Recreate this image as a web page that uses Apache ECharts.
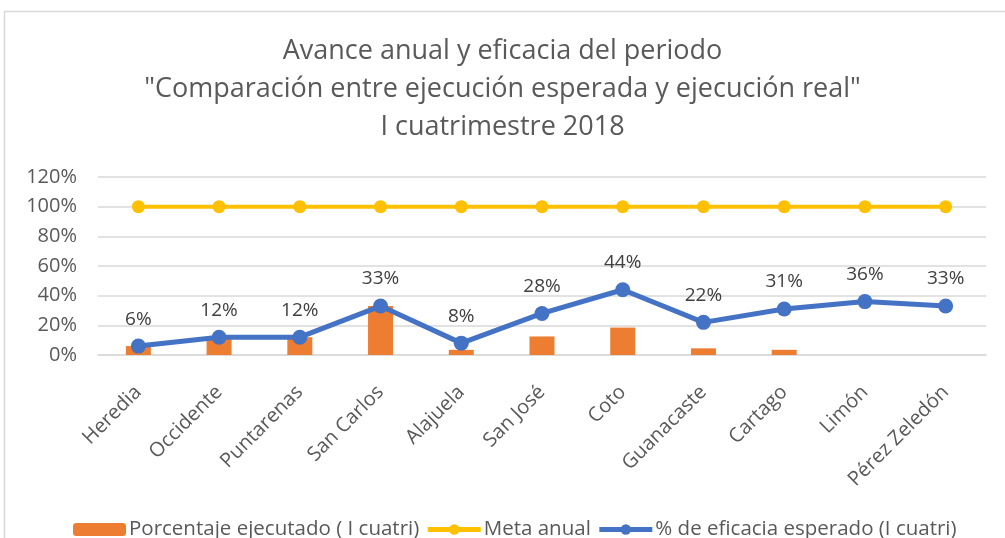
<!DOCTYPE html>
<html>
<head>
<meta charset="utf-8">
<script src="https://cdn.jsdelivr.net/npm/echarts@6/dist/echarts.min.js"></script>
<style>
html,body{margin:0;padding:0;background:#fff;}
#c{width:1005px;height:538px;}
</style>
</head>
<body>
<div id="c"></div>
<script>
const categories = ["Heredia","Occidente","Puntarenas","San Carlos","Alajuela","San José","Coto","Guanacaste","Cartago","Limón","Pérez Zeledón"];
const ejecutado = [6, 11, 12, 33, 3.5, 12.5, 18.5, 4.5, 3.5, 0, 0];
const meta = [100, 100, 100, 100, 100, 100, 100, 100, 100, 100, 100];
const eficacia = [6, 12, 12, 33, 8, 28, 44, 22, 31, 36, 33];
const seriesNames = ["Porcentaje ejecutado ( I cuatri)", "Meta anual", "% de eficacia esperado (I cuatri)"];
const titleLines = ["Avance anual y eficacia del periodo", "\"Comparación entre ejecución esperada y ejecución real\"", "I cuatrimestre 2018"];

const FONT = "Open Sans";
const chart = echarts.init(document.getElementById('c'));
chart.setOption({
  animation: false,
  backgroundColor: '#fff',
  textStyle: { fontFamily: FONT },
  title: {
    text: titleLines.join('\n'),
    left: 'center',
    top: 27,
    textStyle: { fontFamily: FONT, fontSize: 27, fontWeight: 'normal', color: '#595959', lineHeight: 38 }
  },
  graphic: [
    { type: 'polyline', shape: { points: [[4.5, 538], [4.5, 11.5], [1005, 11.5]] }, style: { stroke: '#D9D9D9', lineWidth: 1.5, fill: null } }
  ],
  legend: {
    top: 514,
    left: 68,
    itemGap: 6,
    itemWidth: 53,
    itemHeight: 13,
    textStyle: { fontFamily: FONT, fontSize: 20.5, color: '#595959', padding: [0, 0, 0, -2] },
    data: [
      { name: seriesNames[0] },
      { name: seriesNames[1], lineStyle: { width: 5 }, itemStyle: { borderWidth: 0 } },
      { name: seriesNames[2], lineStyle: { width: 5 }, itemStyle: { borderWidth: 0 } }
    ]
  },
  grid: { left: 98, right: 19, top: 177, bottom: 183 },
  xAxis: {
    type: 'category',
    data: categories,
    axisLine: { lineStyle: { color: '#D9D9D9', width: 1.5 } },
    axisTick: { show: false },
    axisLabel: { rotate: 45, fontFamily: FONT, fontSize: 20, color: '#595959', margin: 34, interval: 0 }
  },
  yAxis: {
    type: 'value',
    min: 0, max: 120, interval: 20,
    axisLine: { show: false },
    axisTick: { show: false },
    splitLine: { lineStyle: { color: '#D9D9D9', width: 1.5 } },
    axisLabel: { formatter: '{value}%', fontFamily: FONT, fontSize: 20, color: '#595959', margin: 21 }
  },
  series: [
    {
      name: seriesNames[0], type: 'bar', data: ejecutado, barWidth: 25,
      itemStyle: { color: '#ED7D31' }
    },
    {
      name: seriesNames[1], type: 'line', data: meta,
      symbol: 'circle', symbolSize: 13,
      lineStyle: { color: '#FFC000', width: 4 },
      itemStyle: { color: '#FFC000' }
    },
    {
      name: seriesNames[2], type: 'line', data: eficacia,
      symbol: 'circle', symbolSize: 15,
      lineStyle: { color: '#4472C4', width: 5 },
      itemStyle: { color: '#4472C4' },
      label: { show: true, position: 'top', distance: 10, formatter: '{c}%', fontFamily: FONT, fontSize: 19, color: '#404040' }
    }
  ]
});
</script>
</body>
</html>
